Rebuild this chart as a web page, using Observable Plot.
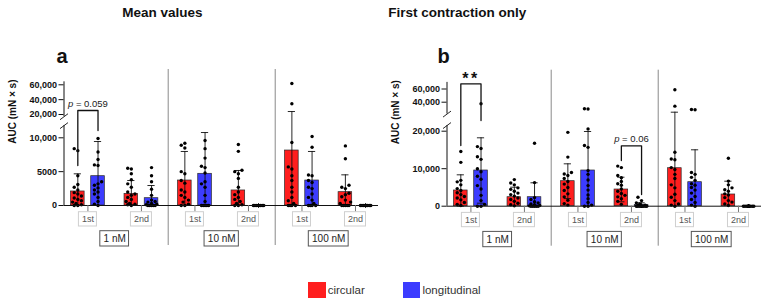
<!DOCTYPE html>
<html>
<head>
<meta charset="utf-8">
<script src="https://cdn.jsdelivr.net/npm/d3@7"></script>
<script src="https://cdn.jsdelivr.net/npm/@observablehq/plot@0.6"></script>
<style>
  html, body { margin: 0; padding: 0; background: #fff; }
  #fig { position: relative; width: 767px; height: 304px; overflow: hidden; font-family: "Liberation Sans", Arial, sans-serif; color: #111; }
  .title { position: absolute; top: 5.5px; font-family: "Liberation Sans Narrow", "Arial Narrow", "Liberation Sans", sans-serif; font-weight: bold; font-size: 13.5px; line-height: 13.5px; transform: translateX(-50%); white-space: nowrap; color: #111; }
  .letter { position: absolute; top: 46px; font-weight: bold; font-size: 20px; line-height: 20px; color: #111; }
  .legend-item { position: absolute; top: 281.7px; height: 16px; display: flex; align-items: center; font-size: 11.5px; color: #333; white-space: nowrap; }
  .swatch { width: 17.4px; height: 16px; margin-right: 2px; }
</style>
</head>
<body>
<div id="fig"></div>
<script>
// ---------------- data ----------------
const concentrations = ["1 nM", "10 nM", "100 nM"];
const contractions = ["1st", "2nd"];
const tissues = ["circular", "longitudinal"];
const tissueColors = ["#ff1e1e", "#3c3cff"];
const panelTitles = ["Mean values", "First contraction only"];
const panelLetters = ["a", "b"];
const yLabel = "AUC (mN × s)";

// bar order: 1 nM-1st-circ, 1 nM-1st-long, 1 nM-2nd-circ, 1 nM-2nd-long, then 10 nM, then 100 nM
const meanA = [2070, 4330, 1720, 1080, 3690, 4680, 2220, 0, 8120, 3690, 1970, 0];
const sdA   = [2610, 5120, 1970, 1870, 4290, 6100, 2950, 0, 15880, 4290, 2560, 0];
const dotsA = [
  [8400, 8100, 4400, 3100, 2700, 2300, 1900, 1700, 1400, 1100, 900, 700, 500, 300, 100, 0, 0],
  [9900, 7900, 6800, 6000, 5900, 3500, 3200, 3000, 2600, 2300, 2000, 1700, 1200, 600, 200, 0],
  [5500, 5400, 4700, 3800, 3200, 2700, 2000, 1700, 1500, 1200, 900, 600, 300, 200, 100, 0],
  [5600, 4400, 3500, 2400, 1500, 800, 600, 500, 300, 200, 100, 0, 0, 0, 0, 0],
  [9200, 8900, 8500, 5000, 4700, 3700, 3300, 2300, 2000, 1500, 1200, 800, 500, 200, 0, 0],
  [9600, 8400, 7000, 5800, 5600, 4800, 3500, 3200, 2700, 1500, 600, 0, 0, 0, 0, 0],
  [9000, 8000, 5200, 5000, 4700, 4000, 2700, 2000, 1600, 1200, 900, 600, 300, 100, 0, 0],
  [0, 0, 0, 0, 0, 0, 0, 0, 0, 0, 0, 0, 0, 0, 0],
  [61800, 34400, 9300, 5700, 5400, 4400, 3700, 2700, 2000, 1200, 700, 300, 0, 0, 0, 0],
  [10200, 8600, 4500, 4400, 3700, 3400, 2700, 2500, 1700, 1200, 800, 300, 0, 0, 0, 0],
  [8800, 6900, 3000, 2700, 2500, 1800, 1600, 1300, 800, 500, 300, 0, 0, 0, 0, 0],
  [0, 0, 0, 0, 0, 0, 0, 0, 0, 0, 0, 0, 0, 0, 0]
];

const meanB = [4190, 9520, 2400, 2400, 6670, 9520, 4450, 300, 10130, 6400, 3120, 0];
const sdB   = [4180, 8720, 2670, 3840, 4630, 10400, 3280, 600, 14720, 8640, 3550, 0];
const dotsB = [
  [14600, 11700, 6900, 6500, 5700, 4700, 4200, 3600, 3100, 2600, 2200, 1700, 1000, 500, 200],
  [37600, 15900, 15400, 13200, 12500, 10000, 9200, 8000, 7200, 5500, 4600, 2900, 1500, 500, 0, 0],
  [7100, 6200, 5700, 4900, 4500, 4000, 3500, 3100, 2700, 2200, 1800, 1300, 800, 400, 100],
  [16800, 6300, 2300, 1800, 1200, 900, 600, 400, 200, 100, 0, 0, 0, 0, 0],
  [19700, 13100, 9000, 8600, 8200, 7400, 6600, 5900, 5000, 4200, 3300, 2500, 1600, 700, 300],
  [30000, 29800, 20600, 16200, 15700, 9500, 8500, 7000, 5500, 4300, 3000, 2000, 1000, 300, 0, 0],
  [10700, 10300, 8200, 7600, 6600, 6000, 5600, 4600, 4000, 3400, 2900, 2500, 2000, 1300, 500],
  [2400, 1500, 900, 600, 300, 200, 100, 0, 0, 0, 0, 0, 0, 0, 0],
  [58800, 34000, 14400, 12600, 12400, 10300, 9800, 8500, 7400, 5700, 4900, 3200, 2400, 1500, 600, 300, 0],
  [29000, 28500, 9000, 8500, 7700, 6900, 6000, 5600, 5000, 4300, 3500, 2600, 1800, 1000, 300, 0],
  [12800, 6700, 5700, 4900, 4400, 4000, 3300, 3000, 2300, 1500, 1100, 600, 200],
  [0, 0, 0, 0, 0, 0, 0, 0, 0, 0, 0, 0, 0, 0, 0]
];

const ticksA = [0, 5000, 10000, 20000, 40000, 60000];
const tickLabelsA = ["0", "5000", "10,000", "20,000", "40,000", "60,000"];
const ticksB = [0, 10000, 20000, 40000, 60000];
const tickLabelsB = ["0", "10,000", "20,000", "40,000", "60,000"];

// broken axis: [top of lower segment, bottom of upper segment, top of axis]
const axisBreakA = [11800, 17000, 64000];
const axisBreakB = [21500, 22000, 70000];

const bracketsA = [
  {conc: "1 nM", contraction: "1st", label: "p = 0.059", legs: [5900, 11080], top: 25400}
];
const bracketsB = [
  {conc: "1 nM", contraction: "1st", label: "**", legs: [16190, 21720], top: 67900},
  {conc: "10 nM", contraction: "2nd", label: "p = 0.06", legs: [12190, 3120], top: 16110}
];

// ---------------- layout ----------------
const W = 383.5, H = 255, ML = 63.5, MR = 5.5;
const xDomain = [-0.447, 5.43];
const PX = (W - ML - MR) / (xDomain[1] - xDomain[0]); // px per slot
const scaleA = {zeroY: 205, lowRate: 6.77 / 1000, upV: 20000, upPx: 91, upRate: 0.7425 / 1000};
const scaleB = {zeroY: 205.7, lowRate: 3.75 / 1000, upV: 40000, upPx: 104, upRate: 0.66 / 1000};
const FONT = "Liberation Sans, Arial, sans-serif";

const ctx = document.createElement("canvas").getContext("2d");
function textWidth(text, font) { ctx.font = font; return ctx.measureText(text).width; }

function makeTransform(brk, sc) {
  const [L, U] = brk;
  const lo = v => v * sc.lowRate;
  const up = v => sc.upPx + (v - sc.upV) * sc.upRate;
  return v => v <= L ? lo(v) : v >= U ? up(v) : lo(L) + (v - L) / (U - L) * (up(U) - lo(L));
}

function drawPanel(means, sds, dots, ticks, tickLabels, brk, sc, brackets) {
  const f = makeTransform(brk, sc);
  const topPx = f(brk[2]);
  const marginTop = sc.zeroY - topPx, marginBottom = H - sc.zeroY;
  const off = 10.1 / PX, hw = 6.8 / PX, capHw = 3.6 / PX;

  const bars = [];
  concentrations.forEach((conc, g) => contractions.forEach((con, c) => tissues.forEach((tissue, s) => {
    const i = g * 4 + c * 2 + s;
    bars.push({conc, con, tissue, slot: 2 * g + c, cx: 2 * g + c + (s ? off : -off),
      mean: means[i], sd: sds[i], dots: dots[i]});
  })));

  // simple swarm layout of the points (pixel units in y thanks to the transform)
  const CANDS = [0, -3.6, 3.6, -1.8, 1.8, -5.2, 5.2];
  const MIN = 3.6;
  const pts = [];
  bars.forEach(b => {
    const placed = [];
    b.dots.slice().sort((a, c) => a - c).forEach(v => {
      const py = f(v);
      let best = 0, bestD = -1;
      for (const ox of CANDS) {
        let dmin = Infinity;
        for (const p of placed) dmin = Math.min(dmin, Math.hypot(p.ox - ox, p.py - py));
        if (dmin >= MIN) { best = ox; bestD = dmin; break; }
        if (dmin > bestD) { bestD = dmin; best = ox; }
      }
      placed.push({ox: best, py});
      pts.push({x: b.cx + best / PX, y: py});
    });
  });

  const caps = [];
  bars.forEach(b => {
    if (b.sd > 0) {
      caps.push({x: b.cx, y: f(b.mean + b.sd)});
      if (b.mean - b.sd > 0) caps.push({x: b.cx, y: f(b.mean - b.sd)});
    }
  });

  const slots = [];
  concentrations.forEach((conc, g) => contractions.forEach((con, c) => slots.push({slot: 2 * g + c, label: con})));
  const groups = concentrations.map((conc, g) => ({x: 2 * g + 0.5, label: conc}));
  const smallFont = `9px ${FONT}`, groupFont = `10px ${FONT}`;
  slots.forEach(d => d.w = (textWidth(d.label, smallFont) + 6) / PX);
  groups.forEach(d => d.w = (textWidth(d.label, groupFont) + 6.5) / PX);

  const segs = [{y1: 0, y2: f(brk[0])}, {y1: f(brk[1]), y2: topPx}];
  const slashes = [f(brk[0]), f(brk[1])].map(p => ({x1: xDomain[0] - 4 / PX, x2: xDomain[0] + 4 / PX, y1: p - 3, y2: p + 3}));

  const tickMap = new Map(ticks.map((t, i) => [f(t), tickLabels[i]]));

  const bLines = [], bLabels = [];
  brackets.forEach((br, k) => {
    const slot = 2 * concentrations.indexOf(br.conc) + contractions.indexOf(br.contraction);
    const xl = slot - off, xr = slot + off;
    bLines.push({k, x: xl, y: f(br.legs[0])}, {k, x: xl, y: f(br.top)}, {k, x: xr, y: f(br.top)}, {k, x: xr, y: f(br.legs[1])});
    bLabels.push({x: slot, y: f(br.top), label: br.label});
  });

  return Plot.plot({
    width: W, height: H, marginLeft: ML, marginRight: MR, marginTop, marginBottom,
    style: {fontFamily: FONT, fontSize: "10px", color: "#111", background: "transparent", overflow: "visible"},
    x: {domain: xDomain, axis: null},
    y: {domain: [0, topPx], axis: null},
    color: {domain: tissues, range: tissueColors},
    marks: [
      Plot.ruleX([1.5, 3.5], {y1: 136, y2: -40, stroke: "#8a8a8a", strokeWidth: 1}),
      Plot.rect(bars.filter(b => b.mean > 0), {x1: b => b.cx - hw, x2: b => b.cx + hw, y1: 0, y2: b => f(b.mean),
        fill: "tissue", stroke: "#2a2a2a", strokeWidth: 0.7}),
      Plot.ruleX(bars.filter(b => b.sd > 0), {x: "cx", y1: b => f(Math.max(0, b.mean - b.sd)), y2: b => f(b.mean + b.sd), stroke: "#111", strokeWidth: 0.9}),
      Plot.ruleY(caps, {y: "y", x1: d => d.x - capHw, x2: d => d.x + capHw, stroke: "#111", strokeWidth: 0.9}),
      Plot.dot(pts, {x: "x", y: "y", r: 1.7, fill: "#000", stroke: null}),
      Plot.ruleY([0], {x1: xDomain[0], x2: xDomain[1], stroke: "#111", strokeWidth: 1}),
      Plot.ruleX(segs, {x: xDomain[0], y1: "y1", y2: "y2", stroke: "#111", strokeWidth: 1}),
      Plot.link(slashes, {x1: "x1", x2: "x2", y1: "y1", y2: "y2", stroke: "#111", strokeWidth: 0.9}),
      Plot.axisY({ticks: [...tickMap.keys()], tickFormat: t => tickMap.get(t), tickSize: 5, tickPadding: 2,
        fontSize: 9, fontWeight: "bold", label: null, stroke: "#111"}),
      Plot.text([yLabel], {frameAnchor: "left", rotate: -90, dx: -51, fontWeight: "bold", fontSize: 10, fill: "#111"}),
      // x axis: contraction boxes and concentration boxes
      Plot.ruleX(slots, {x: "slot", y1: 0, y2: -6.7, stroke: "#777", strokeWidth: 1}),
      Plot.rect(slots, {x1: d => d.slot - d.w / 2, x2: d => d.slot + d.w / 2, y1: -6.7, y2: -21, fill: "#fff", stroke: "#cfcfcf", strokeWidth: 1}),
      Plot.text(slots, {x: "slot", y: -13.9, text: "label", fontSize: 9, fill: "#555"}),
      Plot.rect(groups, {x1: d => d.x - d.w / 2, x2: d => d.x + d.w / 2, y1: -25.7, y2: -41, fill: "#fff", stroke: "#555", strokeWidth: 1}),
      Plot.text(groups, {x: "x", y: -33.4, text: "label", fontSize: 10, fill: "#222"}),
      // significance brackets
      Plot.line(bLines, {x: "x", y: "y", z: "k", stroke: "#111", strokeWidth: 1.3, curve: "linear"}),
      Plot.text(bLabels.filter(d => d.label !== "**"), {x: "x", y: "y", text: "label", dy: -7, fontSize: 9.5, fill: "#222"}),
      Plot.text(bLabels.filter(d => d.label === "**"), {x: "x", y: "y", text: "label", dy: -4.5, fontSize: 16, fontWeight: "bold", fill: "#111"})
    ]
  });
}

// ---------------- assemble ----------------
const fig = document.getElementById("fig");
const svgA = drawPanel(meanA, sdA, dotsA, ticksA, tickLabelsA, axisBreakA, scaleA, bracketsA);
const svgB = drawPanel(meanB, sdB, dotsB, ticksB, tickLabelsB, axisBreakB, scaleB, bracketsB);
[[svgA, 0], [svgB, 383]].forEach(([svg, left]) => {
  svg.style.position = "absolute";
  svg.style.left = left + "px";
  svg.style.top = "0px";
  fig.appendChild(svg);
});

[[panelTitles[0], 162.3], [panelTitles[1], 457.3]].forEach(([t, cx]) => {
  const d = document.createElement("div");
  d.className = "title"; d.textContent = t; d.style.left = cx + "px";
  fig.appendChild(d);
});
[[panelLetters[0], 56.5], [panelLetters[1], 437.5]].forEach(([t, x]) => {
  const d = document.createElement("div");
  d.className = "letter"; d.textContent = t; d.style.left = x + "px";
  fig.appendChild(d);
});
[[0, 308.3], [1, 403]].forEach(([i, x]) => {
  const d = document.createElement("div");
  d.className = "legend-item"; d.style.left = x + "px";
  const sw = document.createElement("span");
  sw.className = "swatch"; sw.style.background = tissueColors[i];
  const tx = document.createElement("span");
  tx.textContent = tissues[i];
  d.append(sw, tx);
  fig.appendChild(d);
});

// italic "p" and spaced stars
const NS = "http://www.w3.org/2000/svg";
fig.querySelectorAll("svg text").forEach(t => {
  const s = t.textContent;
  if (s.startsWith("p = ")) {
    t.textContent = "";
    const a = document.createElementNS(NS, "tspan"); a.setAttribute("font-style", "italic"); a.textContent = "p";
    const b = document.createElementNS(NS, "tspan"); b.textContent = s.slice(1);
    t.append(a, b);
  } else if (s === "**") {
    t.setAttribute("letter-spacing", "2.5");
  }
});
</script>
</body>
</html>
